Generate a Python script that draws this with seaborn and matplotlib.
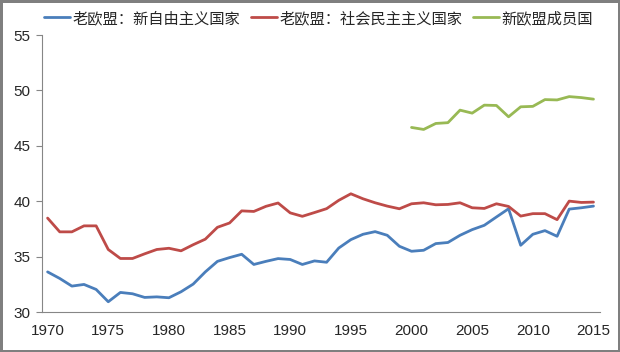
import matplotlib
matplotlib.use("Agg")
import matplotlib.pyplot as plt
import seaborn as sns
import pandas as pd
import numpy as np
from matplotlib.lines import Line2D

years_old = list(range(1970, 2016))
liberal = [33.65, 33.06, 32.37, 32.52, 32.07, 30.96, 31.80, 31.68, 31.35, 31.40,
           31.32, 31.86, 32.55, 33.65, 34.60, 34.94, 35.24, 34.32, 34.60, 34.85,
           34.77, 34.32, 34.64, 34.52, 35.80, 36.56, 37.04, 37.28, 36.95, 35.96,
           35.51, 35.60, 36.20, 36.30, 36.95, 37.46, 37.85, 38.60, 39.34, 36.05,
           37.04, 37.37, 36.86, 39.31, 39.43, 39.58]
social = [38.50, 37.26, 37.26, 37.80, 37.80, 35.67, 34.86, 34.86, 35.28, 35.67,
          35.78, 35.55, 36.10, 36.60, 37.67, 38.06, 39.15, 39.10, 39.56, 39.86,
          38.97, 38.66, 39.00, 39.35, 40.10, 40.69, 40.24, 39.88, 39.58, 39.34,
          39.79, 39.88, 39.70, 39.73, 39.88, 39.43, 39.37, 39.79, 39.55, 38.68,
          38.90, 38.90, 38.36, 40.03, 39.91, 39.94]
years_new = list(range(2000, 2016))
new_members = [46.67, 46.49, 47.03, 47.10, 48.23, 47.96, 48.68, 48.65, 47.63, 48.53,
               48.57, 49.18, 49.15, 49.45, 49.36, 49.22]

names = ["老欧盟：新自由主义国家", "老欧盟：社会民主主义国家", "新欧盟成员国"]
colors = ["#4A7EBB", "#BE4B48", "#98B954"]
xticks = list(range(1970, 2016, 5))
yticks = [30, 35, 40, 45, 50, 55]

df = pd.concat([
    pd.DataFrame({"year": years_old, "value": liberal, "series": names[0]}),
    pd.DataFrame({"year": years_old, "value": social, "series": names[1]}),
    pd.DataFrame({"year": years_new, "value": new_members, "series": names[2]}),
])

sns.set_style("white")
plt.rcParams["font.family"] = ["Liberation Sans", "Noto Sans CJK SC", "DejaVu Sans"]

fig = plt.figure(figsize=(6.2, 3.52), dpi=100)
ax = fig.add_axes([0.067, 0.1125, 0.9, 0.788])
sns.lineplot(data=df, x="year", y="value", hue="series", hue_order=names,
             palette=colors, linewidth=2.0, ax=ax, legend=False)

ax.set_xlim(1969.5, 2015.5)
ax.set_ylim(30, 55)
ax.set_xticks(xticks)
ax.set_xticklabels([str(t) for t in xticks], fontsize=11)
ax.set_xticks([t - 0.5 for t in xticks], minor=True)
ax.tick_params(axis="x", which="major", length=0, pad=8)
ax.tick_params(axis="x", which="minor", length=4, color="#868686", width=0.8, direction="out")
ax.set_yticks(yticks)
ax.set_yticklabels([str(t) for t in yticks], fontsize=11)
ax.tick_params(axis="y", length=4, color="#868686", width=0.8, direction="out", left=True, pad=4)
ax.set_xlabel("")
ax.set_ylabel("")
for s in ["top", "right"]:
    ax.spines[s].set_visible(False)
for s in ["left", "bottom"]:
    ax.spines[s].set_color("#868686")
    ax.spines[s].set_linewidth(0.8)

handles = [Line2D([0], [0], color=c, lw=2.0) for c in colors]
fig.legend(handles, names, loc="center", bbox_to_anchor=(0.514, 0.948), ncol=3,
           frameon=False, prop={"family": ["Noto Sans CJK SC"], "size": 11},
           handlelength=1.7, handletextpad=0.15, columnspacing=0.7)

fig.patch.set_edgecolor("#7F7F7F")
fig.patch.set_linewidth(2.5)
fig.savefig("out.png", dpi=100, facecolor="white", edgecolor=fig.get_edgecolor())
